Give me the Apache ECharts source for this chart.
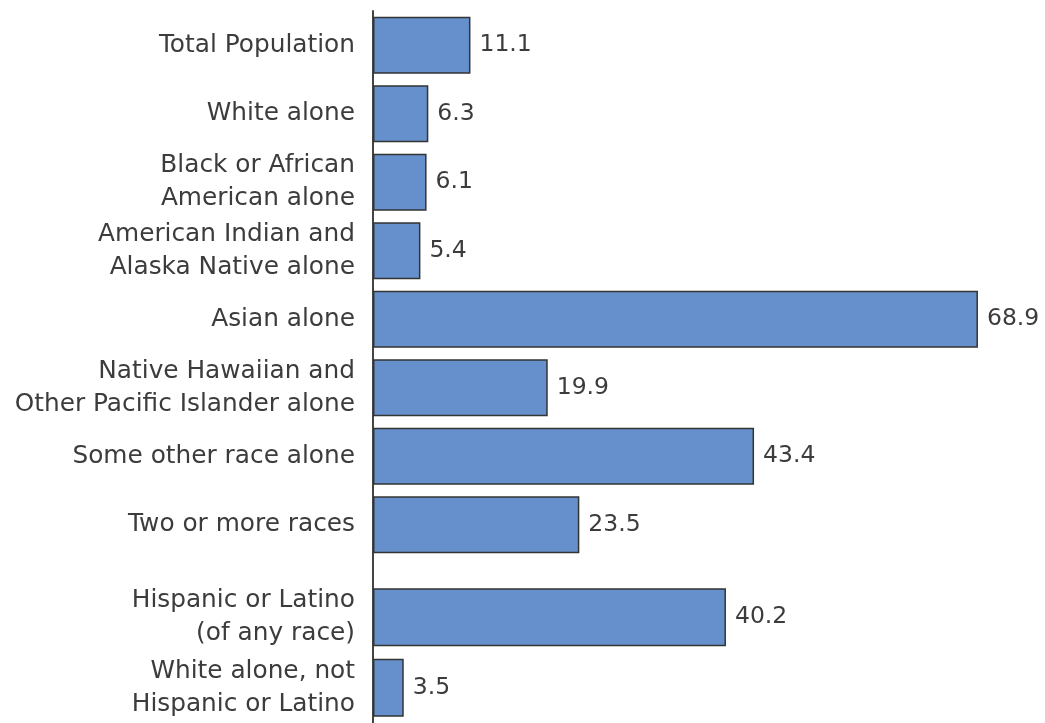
<!DOCTYPE html>
<html><head><meta charset="utf-8">
<script src="https://cdn.jsdelivr.net/npm/echarts@6/dist/echarts.min.js"></script>
<style>html,body{margin:0;padding:0;background:#fff}#c{width:1045px;height:723px}</style>
</head><body><div id="c"></div>
<script>
const raceCategories = ["Total Population","White alone","Black or African\nAmerican alone","American Indian and\nAlaska Native alone","Asian alone","Native Hawaiian and\nOther Pacific Islander alone","Some other race alone","Two or more races"];
const raceValues = [11.1, 6.3, 6.1, 5.4, 68.9, 19.9, 43.4, 23.5];
const hispCategories = ["Hispanic or Latino\n(of any race)","White alone, not\nHispanic or Latino"];
const hispValues = [40.2, 3.5];

const FONT = "DejaVu Sans";
const axisX = 373, plotW = 614.6;
const barStyle = {color:'#6690CC', borderColor:'#333', borderWidth:1.5};
const yAxisCommon = {
  type:'category', inverse:true,
  axisLine:{show:true, lineStyle:{color:'#444', width:2}},
  axisTick:{show:false},
  axisLabel:{color:'#3c3c3c', fontFamily:FONT, fontSize:24.8, lineHeight:33, margin:18, align:'right'}
};
const xAxisCommon = {type:'value', min:0, max:70, show:false};
const labelCommon = {show:true, position:'right', distance:9, color:'#3c3c3c', fontFamily:FONT, fontSize:23.5, formatter:p=>p.value.toFixed(1)};

const chart = echarts.init(document.getElementById('c'));
chart.setOption({
  animation:false,
  grid:[
    {left:axisX, top:11, width:plotW, height:548},
    {left:axisX, top:582, width:plotW, height:143}
  ],
  xAxis:[Object.assign({gridIndex:0}, xAxisCommon), Object.assign({gridIndex:1}, xAxisCommon)],
  yAxis:[
    Object.assign({gridIndex:0, data:raceCategories}, yAxisCommon),
    Object.assign({gridIndex:1, data:hispCategories}, yAxisCommon)
  ],
  graphic:[{type:'line', shape:{x1:axisX, y1:555, x2:axisX, y2:590}, style:{stroke:'#444', lineWidth:2}}],
  series:[
    {type:'bar', xAxisIndex:0, yAxisIndex:0, data:raceValues, barWidth:57, itemStyle:barStyle, label:labelCommon},
    {type:'bar', xAxisIndex:1, yAxisIndex:1, data:hispValues, barWidth:58, itemStyle:barStyle, label:labelCommon}
  ]
});
</script></body></html>
